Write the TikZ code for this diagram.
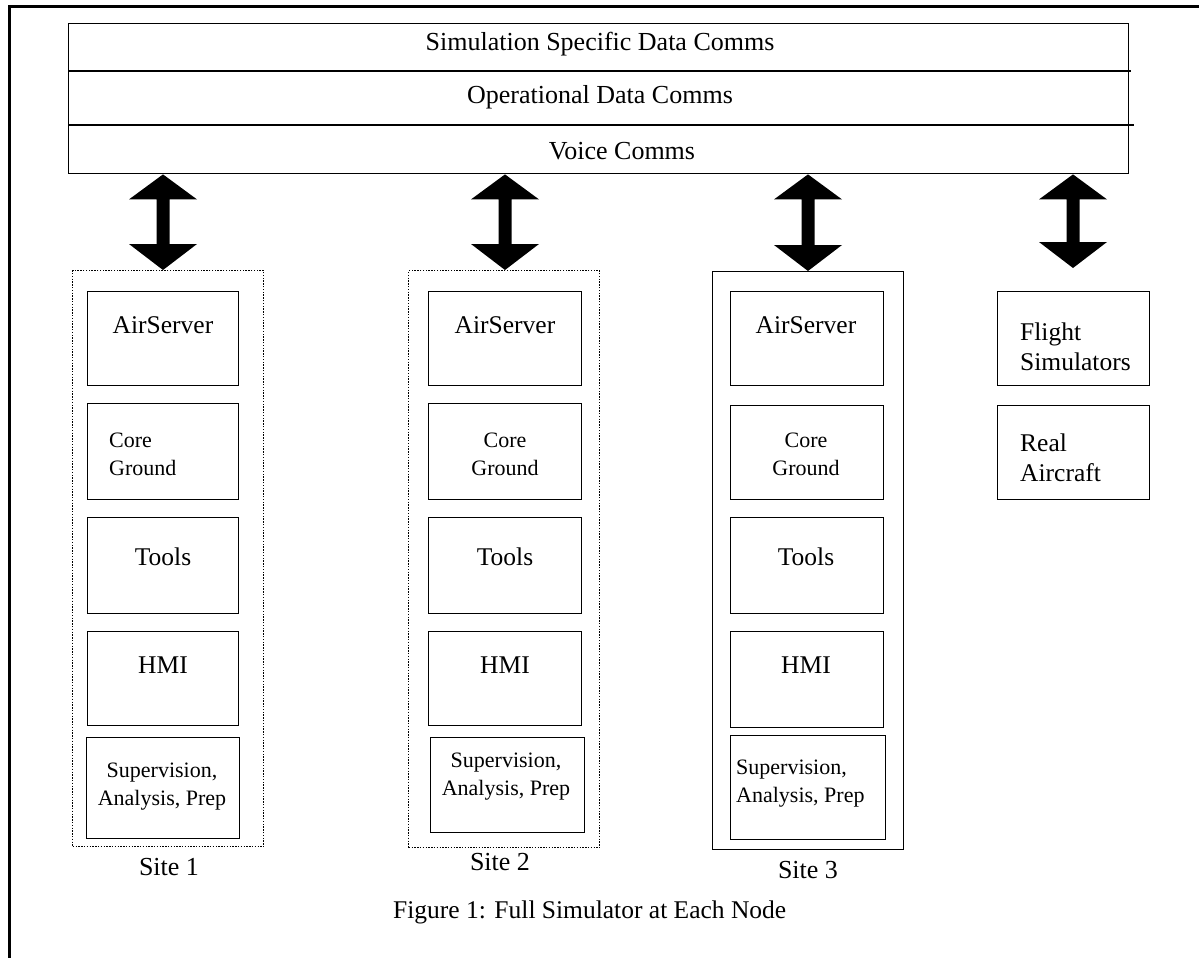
\documentclass[tikz,border=0pt]{standalone}
\usepackage{fontspec}
\setmainfont{Liberation Serif}
\usetikzlibrary{calc}
\tikzset{
  box/.style={draw, line width=1.4pt, inner sep=0pt},
  sitebox/.style={draw, line width=1.4pt, dash pattern=on 1.4pt off 1.4pt, inner sep=0pt},
  sitesolid/.style={draw, line width=1.4pt, inner sep=0pt},
  big/.style={font=\fontsize{25.5}{30}\selectfont, inner sep=0pt},
  small/.style={font=\fontsize{22}{28}\selectfont, inner sep=0pt},
  mid/.style={font=\fontsize{26}{30}\selectfont, inner sep=0pt},
  capt/.style={font=\fontsize{25.5}{30}\selectfont, inner sep=0pt},
  frame/.style={line width=3pt},
}
\newcommand\blockarrow[2]{%
  \fill let \p1=(#1), \p2=(#2) in
    (\x1,\y1) -- (\x1+34pt,\y1-25pt) -- (\x1+6.5pt,\y1-25pt) -- (\x1+6.5pt,\y2+26pt)
    -- (\x1+34pt,\y2+26pt) -- (\x1,\y2) -- (\x1-34pt,\y2+26pt) -- (\x1-6.5pt,\y2+26pt)
    -- (\x1-6.5pt,\y1-25pt) -- (\x1-34pt,\y1-25pt) -- cycle;}
\begin{document}
\begin{tikzpicture}[x=1pt,y=-1pt]
\useasboundingbox (0,0) rectangle (1199,958);
% frame
\draw[frame] (9,958) -- (9,7) -- (1199,7);
% bus
\node[box, anchor=north west, minimum width=1060, minimum height=150] (bus) at (68,23) {};
\draw[line width=1.4pt] (68,71) -- (1131,71);
\draw[line width=1.4pt] (68,125) -- (1134,125);
\node[mid] (busa) at (600,44) {Simulation Specific Data Comms};
\node[mid] (busb) at (600,97) {Operational Data Comms};
\node[mid] (busc) at (622,151) {Voice Comms};
% site containers
\node[sitebox, anchor=north west, minimum width=191, minimum height=576] (s1) at (72,270) {};
\node[sitebox, anchor=north west, minimum width=191, minimum height=577] (s2) at (408,270) {};
\node[sitesolid, anchor=north west, minimum width=191, minimum height=578] (s3) at (712,271) {};
% site 1 boxes
\node[box, anchor=north west, minimum width=151, minimum height=94] (a1) at (87,291) {};
\node[box, anchor=north west, minimum width=151, minimum height=96] (c1) at (87,403) {};
\node[box, anchor=north west, minimum width=151, minimum height=96] (t1) at (87,517) {};
\node[box, anchor=north west, minimum width=151, minimum height=94] (h1) at (87,631) {};
\node[box, anchor=north west, minimum width=153, minimum height=101] (p1) at (86,737) {};
% site 2 boxes
\node[box, anchor=north west, minimum width=153, minimum height=94] (a2) at (428,291) {};
\node[box, anchor=north west, minimum width=153, minimum height=96] (c2) at (428,403) {};
\node[box, anchor=north west, minimum width=153, minimum height=96] (t2) at (428,517) {};
\node[box, anchor=north west, minimum width=153, minimum height=94] (h2) at (428,631) {};
\node[box, anchor=north west, minimum width=154, minimum height=95] (p2) at (430,737) {};
% site 3 boxes
\node[box, anchor=north west, minimum width=153, minimum height=94] (a3) at (730,291) {};
\node[box, anchor=north west, minimum width=153, minimum height=94] (c3) at (730,405) {};
\node[box, anchor=north west, minimum width=153, minimum height=96] (t3) at (730,517) {};
\node[box, anchor=north west, minimum width=153, minimum height=96] (h3) at (730,631) {};
\node[box, anchor=north west, minimum width=155, minimum height=104] (p3) at (730,735) {};
% right boxes
\node[box, anchor=north west, minimum width=152, minimum height=94] (fs) at (997,291) {};
\node[box, anchor=north west, minimum width=152, minimum height=94] (ra) at (997,405) {};
% texts site 1
\node[big] (a1t) at (163,325) {AirServer};
\node[small, align=left, anchor=west] (c1t) at (109,454) {Core\\Ground};
\node[big] (t1t) at (163,557) {Tools};
\node[big] (h1t) at (163,665) {HMI};
\node[small, align=center] (p1t) at (162,787) {Supervision,\\Analysis, Prep};
% texts site 2
\node[big] (a2t) at (505,325) {AirServer};
\node[small, align=center] (c2t) at (505,454) {Core\\Ground};
\node[big] (t2t) at (505,557) {Tools};
\node[big] (h2t) at (505,665) {HMI};
\node[small, align=center] (p2t) at (506,777) {Supervision,\\Analysis, Prep};
% texts site 3
\node[big] (a3t) at (806,325) {AirServer};
\node[small, align=center] (c3t) at (806,454) {Core\\Ground};
\node[big] (t3t) at (806,557) {Tools};
\node[big] (h3t) at (806,665) {HMI};
\node[small, align=left, anchor=west] (p3t) at (736,784) {Supervision,\\Analysis, Prep};
% right texts
\node[big, align=left, anchor=west] (fst) at (1020,347) {Flight\\Simulators};
\node[big, align=left, anchor=west] (rat) at (1020,458) {Real\\Aircraft};
% site labels
\node[mid] (l1) at (169,867) {Site 1};
\node[mid] (l2) at (500,862) {Site 2};
\node[mid] (l3) at (808,870) {Site 3};
\node[capt, anchor=west] (cap) at (393,912) {Figure 1: Full Simulator at Each Node};
% arrows
\coordinate (ar1t) at (bus.south -| 163,0);
\coordinate (ar1b) at (s1.north -| 163,0);
\coordinate (ar2t) at (bus.south -| 505,0);
\coordinate (ar2b) at (s2.north -| 505,0);
\coordinate (ar3t) at (bus.south -| 808,0);
\coordinate (ar3b) at (s3.north -| 808,0);
\coordinate (ar4t) at (bus.south -| 1073,0);
\coordinate (ar4b) at (1073,268);
\blockarrow{ar1t}{ar1b}
\blockarrow{ar2t}{ar2b}
\blockarrow{ar3t}{ar3b}
\blockarrow{ar4t}{ar4b}
\end{tikzpicture}
\end{document}
